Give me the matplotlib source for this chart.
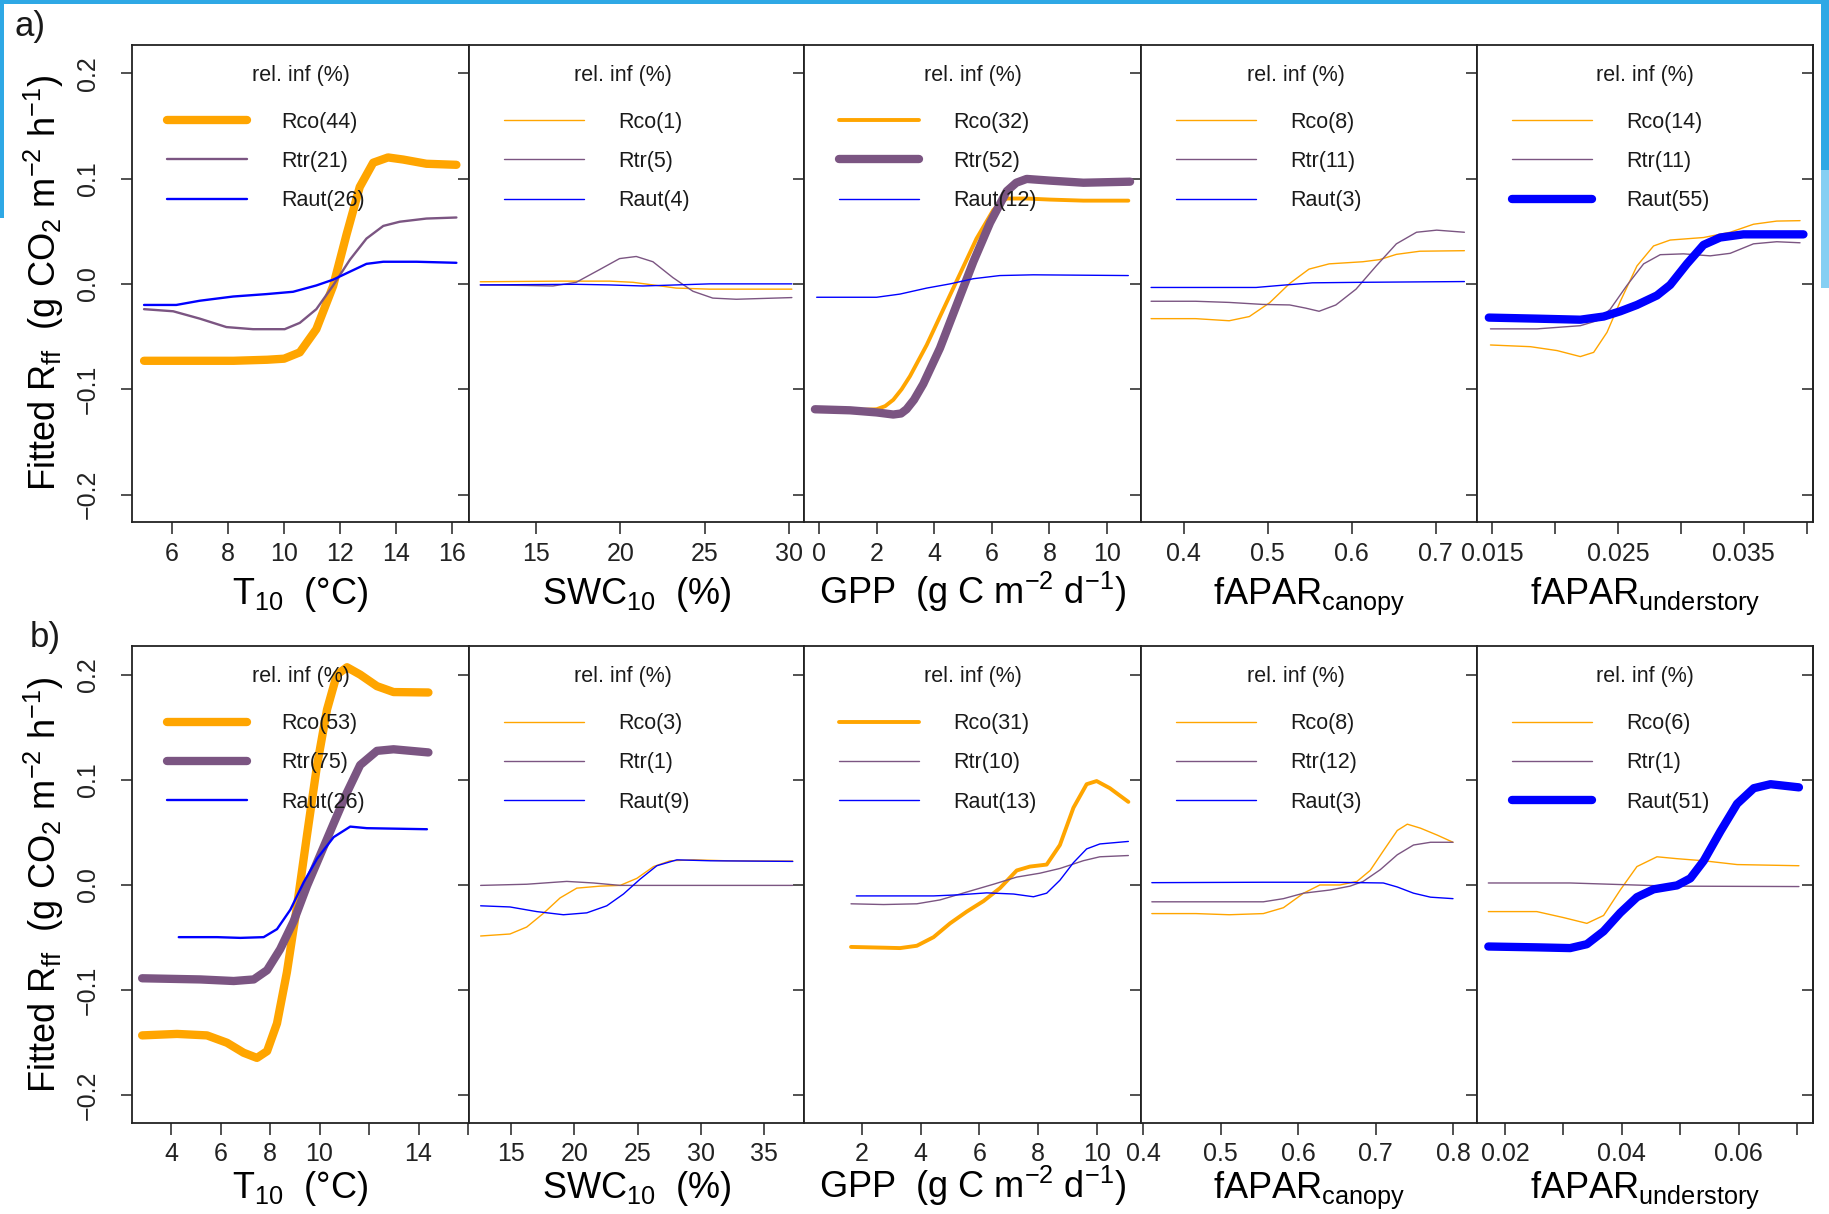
import numpy as np
import matplotlib
matplotlib.use('Agg')
import matplotlib.pyplot as plt
from matplotlib.patches import Rectangle

# ---- data (x, fitted Rff) ----
# row a)
a_t10_x_rco = [5.0, 6.0, 7.0, 8.2, 9.4, 10.0, 10.56, 11.15, 11.75, 12.23, 12.7, 13.18, 13.71, 14.25, 15.08, 16.15]
a_t10_rco = [-0.073, -0.073, -0.073, -0.073, -0.072, -0.071, -0.065, -0.043, -0.002, 0.047, 0.092, 0.115, 0.120, 0.118, 0.114, 0.113]
a_t10_x_rtr = [5.0, 6.04, 6.99, 7.94, 8.89, 10.02, 10.56, 11.15, 11.75, 12.35, 12.94, 13.54, 14.13, 15.08, 16.15]
a_t10_rtr = [-0.024, -0.026, -0.033, -0.041, -0.043, -0.043, -0.037, -0.024, -0.0015, 0.023, 0.043, 0.055, 0.059, 0.062, 0.063]
a_t10_x_raut = [5.0, 6.15, 6.99, 8.18, 9.37, 10.32, 11.15, 11.75, 12.35, 12.94, 13.54, 14.73, 16.15]
a_t10_raut = [-0.020, -0.020, -0.016, -0.012, -0.0097, -0.0075, -0.0015, 0.004, 0.0116, 0.019, 0.021, 0.021, 0.020]

a_swc_x_rco = [11.7, 16.4, 19.37, 20.75, 21.94, 23.32, 25.3, 30.18]
a_swc_rco = [0.002, 0.0026, 0.0026, 0.0015, -0.001, -0.004, -0.005, -0.005]
a_swc_x_rtr = [11.7, 14.43, 16.01, 17.39, 18.77, 19.96, 20.95, 21.94, 23.12, 24.31, 25.49, 26.88, 30.18]
a_swc_rtr = [-0.001, -0.0015, -0.002, 0.0015, 0.0135, 0.024, 0.026, 0.021, 0.006, -0.007, -0.0135, -0.0146, -0.013]
a_swc_x_raut = [11.7, 17.39, 19.37, 21.34, 23.32, 25.3, 30.18]
a_swc_raut = [-0.001, -0.0004, -0.001, -0.002, -0.001, 0.0, 0.0]

a_gpp_x_rco = [-0.14, 1.08, 2.0, 2.3, 2.58, 2.87, 3.16, 3.74, 4.32, 4.9, 5.47, 6.05, 6.3, 6.52, 7.21, 8.02, 9.18, 10.74]
a_gpp_rco = [-0.119, -0.120, -0.119, -0.116, -0.110, -0.100, -0.0876, -0.058, -0.024, 0.0097, 0.043, 0.070, 0.077, 0.081, 0.081, 0.080, 0.079, 0.079]
a_gpp_x_rtr = [-0.14, 1.08, 2.0, 2.58, 2.85, 3.04, 3.3, 3.62, 4.2, 4.78, 5.36, 5.94, 6.52, 6.85, 7.21, 8.02, 9.18, 10.8]
a_gpp_rtr = [-0.119, -0.120, -0.122, -0.124, -0.123, -0.119, -0.110, -0.095, -0.061, -0.020, 0.021, 0.058, 0.088, 0.096, 0.0996, 0.098, 0.096, 0.097]
a_gpp_x_raut = [-0.08, 2.0, 2.81, 3.74, 4.55, 5.36, 6.28, 7.44, 10.74]
a_gpp_raut = [-0.0127, -0.0127, -0.0097, -0.004, 0.0, 0.0049, 0.0079, 0.0086, 0.0079]

a_fc_x_rco = [0.361, 0.414, 0.454, 0.478, 0.502, 0.526, 0.549, 0.573, 0.613, 0.633, 0.653, 0.681, 0.734]
a_fc_rco = [-0.033, -0.033, -0.035, -0.031, -0.018, 0.0004, 0.014, 0.019, 0.021, 0.023, 0.028, 0.031, 0.0315]
a_fc_x_rtr = [0.361, 0.414, 0.454, 0.494, 0.526, 0.545, 0.561, 0.581, 0.605, 0.629, 0.653, 0.677, 0.701, 0.734]
a_fc_rtr = [-0.0165, -0.0165, -0.0176, -0.0195, -0.020, -0.023, -0.026, -0.020, -0.005, 0.017, 0.038, 0.049, 0.051, 0.049]
a_fc_x_raut = [0.361, 0.486, 0.514, 0.553, 0.613, 0.734]
a_fc_raut = [-0.0034, -0.0034, -0.0015, 0.001, 0.0015, 0.0022]

a_fu_x_rco = [0.01487, 0.01804, 0.02016, 0.02201, 0.02307, 0.02413, 0.02519, 0.02651, 0.02783, 0.02915, 0.0318, 0.03392, 0.03577, 0.03762, 0.03947]
a_fu_rco = [-0.058, -0.0596, -0.0633, -0.069, -0.065, -0.046, -0.0165, 0.017, 0.036, 0.0416, 0.044, 0.049, 0.0566, 0.0596, 0.060]
a_fu_x_rtr = [0.01487, 0.01857, 0.02201, 0.02333, 0.02439, 0.02571, 0.02704, 0.02836, 0.03021, 0.03233, 0.03392, 0.03577, 0.03762, 0.03947]
a_fu_rtr = [-0.0427, -0.0427, -0.0397, -0.035, -0.024, -0.0015, 0.019, 0.0277, 0.0285, 0.0266, 0.029, 0.038, 0.040, 0.039]
a_fu_x_raut = [0.01474, 0.01857, 0.02201, 0.02386, 0.02519, 0.02651, 0.0281, 0.02915, 0.03048, 0.0318, 0.03312, 0.03497, 0.03974]
a_fu_raut = [-0.032, -0.033, -0.034, -0.031, -0.026, -0.020, -0.011, -0.001, 0.019, 0.037, 0.044, 0.047, 0.047]

# row b)
b_t10_x_rco = [2.83, 4.24, 5.45, 6.26, 6.93, 7.47, 7.88, 8.28, 8.68, 9.09, 9.49, 9.9, 10.3, 10.7, 11.11, 11.64, 12.32, 12.99, 14.4]
b_t10_rco = [-0.143, -0.1416, -0.143, -0.150, -0.1595, -0.1644, -0.158, -0.1316, -0.083, -0.020, 0.047, 0.114, 0.1666, 0.200, 0.207, 0.200, 0.189, 0.1834, 0.183]
b_t10_x_rtr = [2.83, 5.18, 6.53, 7.34, 7.88, 8.41, 8.95, 9.49, 10.03, 10.57, 11.11, 11.64, 12.32, 12.99, 14.4]
b_t10_rtr = [-0.0887, -0.0898, -0.0913, -0.0898, -0.081, -0.061, -0.0347, -0.001, 0.0287, 0.0585, 0.088, 0.114, 0.1275, 0.129, 0.126]
b_t10_x_raut = [4.31, 5.86, 6.8, 7.74, 8.28, 8.82, 9.36, 9.9, 10.57, 11.24, 11.91, 14.34]
b_t10_raut = [-0.0496, -0.0496, -0.0503, -0.0496, -0.042, -0.0235, 0.0026, 0.025, 0.0455, 0.0555, 0.054, 0.053]

b_swc_x_rco = [12.6, 14.92, 16.24, 17.56, 18.88, 20.2, 22.04, 23.63, 24.95, 26.27, 27.59, 29.43, 32.07, 37.27]
b_swc_rco = [-0.0485, -0.0466, -0.040, -0.027, -0.0123, -0.003, -0.0011, -0.0004, 0.0063, 0.0175, 0.023, 0.0239, 0.023, 0.0227]
b_swc_x_rtr = [12.6, 16.24, 19.41, 21.52, 23.63, 37.27]
b_swc_rtr = [-0.0004, 0.0007, 0.0034, 0.0019, -0.0004, -0.0004]
b_swc_x_raut = [12.6, 14.92, 17.03, 19.14, 20.99, 22.57, 23.89, 25.21, 26.53, 28.11, 30.75, 37.27]
b_swc_raut = [-0.0198, -0.0209, -0.0253, -0.0283, -0.0265, -0.0198, -0.0086, 0.0056, 0.0183, 0.0239, 0.023, 0.0224]

b_gpp_x_rco = [1.63, 2.74, 3.3, 3.87, 4.44, 5.0, 5.57, 6.14, 6.7, 7.27, 7.72, 8.29, 8.74, 9.2, 9.65, 9.99, 10.44, 11.07]
b_gpp_rco = [-0.0589, -0.0596, -0.060, -0.0578, -0.0496, -0.0365, -0.0253, -0.0153, -0.003, 0.0138, 0.0175, 0.0194, 0.038, 0.0734, 0.0958, 0.0988, 0.092, 0.079]
b_gpp_x_rtr = [1.63, 2.74, 3.87, 4.66, 5.57, 6.48, 7.27, 8.06, 8.74, 9.54, 10.1, 11.07]
b_gpp_rtr = [-0.0179, -0.0186, -0.0179, -0.0142, -0.0067, 0.0007, 0.0075, 0.0112, 0.0157, 0.0231, 0.0268, 0.028]
b_gpp_x_raut = [1.81, 4.44, 5.34, 6.25, 7.16, 7.84, 8.29, 8.74, 9.2, 9.65, 10.1, 11.07]
b_gpp_raut = [-0.0104, -0.0104, -0.0093, -0.0075, -0.0086, -0.0112, -0.0078, 0.0045, 0.0212, 0.0343, 0.039, 0.0414]

b_fc_x_rco = [0.411, 0.468, 0.511, 0.555, 0.581, 0.607, 0.628, 0.654, 0.676, 0.693, 0.71, 0.728, 0.741, 0.758, 0.78, 0.80]
b_fc_rco = [-0.0272, -0.0272, -0.0283, -0.0272, -0.0216, -0.0078, 0.0, 0.0, 0.0034, 0.0138, 0.0324, 0.0518, 0.0578, 0.054, 0.0473, 0.0406]
b_fc_x_rtr = [0.411, 0.511, 0.555, 0.581, 0.607, 0.641, 0.667, 0.684, 0.706, 0.728, 0.749, 0.771, 0.80]
b_fc_rtr = [-0.016, -0.016, -0.016, -0.013, -0.0078, -0.0048, -0.0011, 0.0034, 0.0145, 0.0287, 0.038, 0.0406, 0.0406]
b_fc_x_raut = [0.411, 0.555, 0.641, 0.71, 0.728, 0.749, 0.771, 0.80]
b_fc_raut = [0.0022, 0.0026, 0.0026, 0.0019, -0.0019, -0.0078, -0.0116, -0.013]

b_fu_x_rco = [0.01714, 0.02543, 0.03, 0.034, 0.03686, 0.03971, 0.04257, 0.046, 0.04943, 0.054, 0.05971, 0.07029]
b_fu_rco = [-0.0253, -0.0253, -0.031, -0.0365, -0.029, -0.0048, 0.0175, 0.0268, 0.025, 0.023, 0.0194, 0.0183]
b_fu_x_rtr = [0.01714, 0.03114, 0.04829, 0.07029]
b_fu_rtr = [0.0019, 0.0019, -0.0011, -0.0015]
b_fu_x_raut = [0.01714, 0.02543, 0.03114, 0.034, 0.03686, 0.03971, 0.04257, 0.04543, 0.04943, 0.05171, 0.054, 0.05686, 0.05971, 0.06257, 0.06543, 0.07029]
b_fu_raut = [-0.0585, -0.0593, -0.060, -0.0563, -0.044, -0.0265, -0.0116, -0.0041, -0.0004, 0.0063, 0.023, 0.051, 0.0772, 0.092, 0.0958, 0.0928]

# relative influence (%) : Rco, Rtr, Raut for each predictor
relinf_a = [[44, 21, 26], [1, 5, 4], [32, 52, 12], [8, 11, 3], [14, 11, 55]]
relinf_b = [[53, 75, 26], [3, 1, 9], [31, 10, 13], [8, 12, 3], [6, 1, 51]]

series_names = ['Rco', 'Rtr', 'Raut']
series_cols = ['#FFA500', '#7b5582', '#0000FF']

xlabels = ['T$_{10}$  (°C)', 'SWC$_{10}$  (%)', 'GPP  (g C m$^{-2}$ d$^{-1}$)',
           'fAPAR$_{\\mathrm{canopy}}$', 'fAPAR$_{\\mathrm{understory}}$']
ylabel = 'Fitted R$_{\\mathrm{ff}}$  (g CO$_2$ m$^{-2}$ h$^{-1}$)'

rows_data = [
    [[(a_t10_x_rco, a_t10_rco), (a_t10_x_rtr, a_t10_rtr), (a_t10_x_raut, a_t10_raut)],
     [(a_swc_x_rco, a_swc_rco), (a_swc_x_rtr, a_swc_rtr), (a_swc_x_raut, a_swc_raut)],
     [(a_gpp_x_rco, a_gpp_rco), (a_gpp_x_rtr, a_gpp_rtr), (a_gpp_x_raut, a_gpp_raut)],
     [(a_fc_x_rco, a_fc_rco), (a_fc_x_rtr, a_fc_rtr), (a_fc_x_raut, a_fc_raut)],
     [(a_fu_x_rco, a_fu_rco), (a_fu_x_rtr, a_fu_rtr), (a_fu_x_raut, a_fu_raut)]],
    [[(b_t10_x_rco, b_t10_rco), (b_t10_x_rtr, b_t10_rtr), (b_t10_x_raut, b_t10_raut)],
     [(b_swc_x_rco, b_swc_rco), (b_swc_x_rtr, b_swc_rtr), (b_swc_x_raut, b_swc_raut)],
     [(b_gpp_x_rco, b_gpp_rco), (b_gpp_x_rtr, b_gpp_rtr), (b_gpp_x_raut, b_gpp_raut)],
     [(b_fc_x_rco, b_fc_rco), (b_fc_x_rtr, b_fc_rtr), (b_fc_x_raut, b_fc_raut)],
     [(b_fu_x_rco, b_fu_rco), (b_fu_x_rtr, b_fu_rtr), (b_fu_x_raut, b_fu_raut)]],
]
relinf_rows = [relinf_a, relinf_b]

# axis setup (xlim, ticks, tick labels)
xaxes = [
    [((4.57, 16.6), [6, 8, 10, 12, 14, 16], ['6', '8', '10', '12', '14', '16']),
     ((11.03, 30.9), [15, 20, 25, 30], ['15', '20', '25', '30']),
     ((-0.52, 11.18), [0, 2, 4, 6, 8, 10], ['0', '2', '4', '6', '8', '10']),
     ((0.349, 0.749), [0.4, 0.5, 0.6, 0.7], ['0.4', '0.5', '0.6', '0.7']),
     ((0.0138, 0.0405), [0.015, 0.02, 0.025, 0.03, 0.035, 0.04], ['0.015', '', '0.025', '', '0.035', ''])],
    [((2.42, 16.04), [4, 6, 8, 10, 12, 14, 16], ['4', '6', '8', '10', '', '14', '']),
     ((11.68, 38.16), [15, 20, 25, 30, 35], ['15', '20', '25', '30', '35']),
     ((0.03, 11.5), [2, 4, 6, 8, 10], ['2', '4', '6', '8', '10']),
     ((0.397, 0.831), [0.4, 0.5, 0.6, 0.7, 0.8], ['0.4', '0.5', '0.6', '0.7', '0.8']),
     ((0.0152, 0.0727), [0.02, 0.03, 0.04, 0.05, 0.06, 0.07], ['0.02', '', '0.04', '', '0.06', ''])],
]

yticks = [-0.2, -0.1, 0.0, 0.1, 0.2]
yticklabels = ['\u22120.2', '\u22120.1', '0.0', '0.1', '0.2']


def lw_for(ri):
    # line width grows with relative influence
    if ri >= 40:
        return 6.0
    if ri >= 30:
        return 2.8
    if ri >= 20:
        return 1.7
    return 1.0


plt.rcParams['font.family'] = ['Liberation Sans', 'DejaVu Sans']
plt.rcParams['mathtext.fontset'] = 'custom'
plt.rcParams['mathtext.rm'] = 'Liberation Sans'
plt.rcParams['mathtext.it'] = 'Liberation Sans:italic'
plt.rcParams['mathtext.bf'] = 'Liberation Sans:bold'
plt.rcParams['text.color'] = '#1a1a1a'
plt.rcParams['xtick.color'] = '#222222'
plt.rcParams['ytick.color'] = '#222222'

W, H = 1829, 1214
fig = plt.figure(figsize=(W / 100, H / 100), dpi=100)

edges = [132, 469, 804, 1141, 1477, 1813]
row_px = [(44.7, 522), (646.2, 1122.7)]
xlab_y = [-0.172, -0.157]
tcol = '#222222'
lfs = 15.5

for r, (top, bot) in enumerate(row_px):
    for c in range(5):
        pw = edges[c + 1] - edges[c]
        ph = bot - top
        ax = fig.add_axes([edges[c] / W, 1 - bot / H, pw / W, ph / H])
        ri = relinf_rows[r][c]
        for k in range(3):
            xs, ys = rows_data[r][c][k]
            ax.plot(xs, ys, color=series_cols[k], lw=lw_for(ri[k]),
                    solid_capstyle='round', solid_joinstyle='round',
                    label='%s(%d)' % (series_names[k], ri[k]))

        xlim, xt, xtl = xaxes[r][c]
        ax.set_xlim(*xlim)
        ax.set_ylim(-0.226, 0.227)
        ax.set_xticks(xt)
        ax.set_xticklabels(xtl)
        ax.tick_params(axis='x', direction='out', length=8.6, width=1.1, pad=5.5, labelsize=18)

        ax.set_yticks(yticks)
        if c == 0:
            ax.set_yticklabels(yticklabels)
            ax.tick_params(axis='y', direction='out', length=7.7, width=1.1, pad=15.5,
                           labelsize=18, labelrotation=90)
            for lab in ax.get_yticklabels():
                lab.set_va('center')
            ax.set_ylabel(ylabel, fontsize=26, va='center', ha='center')
            ax.yaxis.set_label_coords(-0.261, 0.5)
        else:
            ax.tick_params(axis='y', left=False, labelleft=False)

        sec = ax.secondary_yaxis('right')
        sec.set_yticks(yticks)
        sec.tick_params(direction='in', length=8, width=1.1, labelright=False)
        for sp in sec.spines.values():
            sp.set_linewidth(1.3)
            sp.set_color(tcol)

        for sp in ax.spines.values():
            sp.set_linewidth(1.3)
            sp.set_color(tcol)

        ax.set_xlabel(xlabels[c], fontsize=26, va='baseline')
        ax.xaxis.set_label_coords(0.5, xlab_y[r])

        # legend box, title placed on its own like R's legend title
        ax.legend(loc='upper left', bbox_to_anchor=(35 / pw, 1 - 67 / ph),
                  frameon=False, fontsize=lfs, handlelength=3.72, handletextpad=1.58,
                  labelspacing=0.85, borderpad=0, borderaxespad=0)
        longest = max(len('%s(%d)' % (series_names[k], ri[k])) for k in range(3))
        tx = 0.50 if longest >= 8 else 0.46
        ax.text(tx, 1 - 30.4 / ph, 'rel. inf (%)', transform=ax.transAxes,
                ha='center', va='center', fontsize=lfs)

fig.text(15 / W, 1 - 36 / H, 'a)', fontsize=25, va='baseline')
fig.text(30 / W, 1 - 647 / H, 'b)', fontsize=25, va='baseline')

# light-blue selection frame around the slide image
frame = '#2ea8e5'
fig.add_artist(Rectangle((0, 1 - 4 / H), 1, 4 / H, transform=fig.transFigure, color=frame, lw=0))
fig.add_artist(Rectangle((0, 1 - 218 / H), 4 / W, 218 / H, transform=fig.transFigure, color=frame, lw=0))
fig.add_artist(Rectangle((1821 / W, 1 - 170 / H), 8 / W, 170 / H, transform=fig.transFigure, color=frame, lw=0))
fig.add_artist(Rectangle((1821 / W, 1 - 288 / H), 8 / W, 118 / H, transform=fig.transFigure, color='#86cff3', lw=0))

fig.savefig('out.png', dpi=100)
